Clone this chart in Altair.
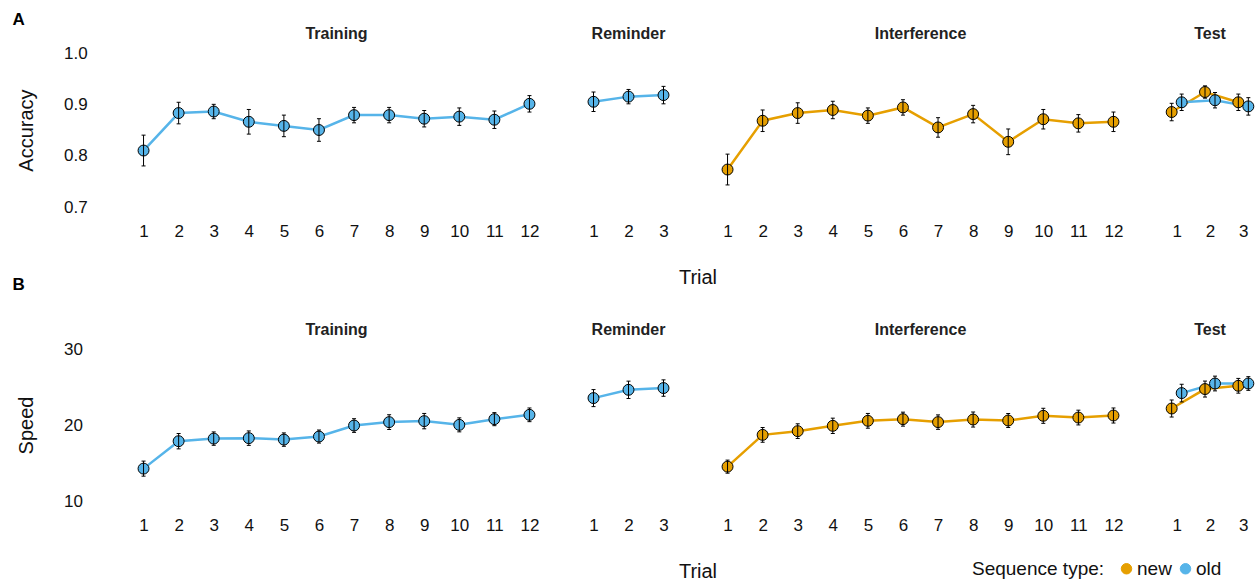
import altair as alt
import pandas as pd

FONT = "Liberation Sans"
PHASES = ["Training", "Reminder", "Interference", "Test"]
N_TRIALS = [12, 3, 12, 3]
PANEL_W = [421, 105, 421, 100]

# ---- Accuracy (panel A) ----
acc_training = [0.810, 0.883, 0.886, 0.866, 0.858, 0.850, 0.879, 0.879, 0.872, 0.876, 0.870, 0.901]
acc_training_se = [0.030, 0.021, 0.014, 0.024, 0.021, 0.022, 0.015, 0.015, 0.016, 0.017, 0.017, 0.016]
acc_reminder = [0.905, 0.915, 0.918]
acc_reminder_se = [0.019, 0.014, 0.017]
acc_interference = [0.773, 0.868, 0.883, 0.889, 0.878, 0.894, 0.855, 0.881, 0.827, 0.871, 0.863, 0.866]
acc_interference_se = [0.030, 0.021, 0.020, 0.017, 0.015, 0.015, 0.019, 0.017, 0.025, 0.019, 0.017, 0.019]
acc_test_new = [0.885, 0.924, 0.904]
acc_test_new_se = [0.017, 0.012, 0.016]
acc_test_old = [0.904, 0.908, 0.896]
acc_test_old_se = [0.016, 0.015, 0.017]

# ---- Speed (panel B) ----
spd_training = [14.26, 17.87, 18.21, 18.27, 18.08, 18.48, 19.93, 20.38, 20.51, 20.02, 20.77, 21.34]
spd_training_se = [0.99, 1.01, 0.88, 0.95, 0.88, 0.86, 0.90, 0.97, 1.01, 0.92, 0.86, 0.90]
spd_reminder = [23.54, 24.63, 24.86]
spd_reminder_se = [1.12, 1.14, 1.08]
spd_interference = [14.52, 18.70, 19.19, 19.89, 20.55, 20.77, 20.38, 20.72, 20.59, 21.21, 20.98, 21.25]
spd_interference_se = [0.86, 0.97, 0.97, 1.01, 0.97, 0.92, 0.95, 0.99, 0.92, 0.99, 0.97, 0.99]
spd_test_new = [22.17, 24.73, 25.16]
spd_test_new_se = [1.12, 1.05, 0.97]
spd_test_old = [24.20, 25.46, 25.46]
spd_test_old_se = [1.16, 0.97, 0.90]

rows = []


def add(measure, phase, typ, means, ses):
    for i, (m, s) in enumerate(zip(means, ses)):
        rows.append(dict(measure=measure, phase=phase, type=typ, trial=i + 1, mean=m, se=s))


add("Accuracy", "Training", "old", acc_training, acc_training_se)
add("Accuracy", "Reminder", "old", acc_reminder, acc_reminder_se)
add("Accuracy", "Interference", "new", acc_interference, acc_interference_se)
add("Accuracy", "Test", "new", acc_test_new, acc_test_new_se)
add("Accuracy", "Test", "old", acc_test_old, acc_test_old_se)
add("Speed", "Training", "old", spd_training, spd_training_se)
add("Speed", "Reminder", "old", spd_reminder, spd_reminder_se)
add("Speed", "Interference", "new", spd_interference, spd_interference_se)
add("Speed", "Test", "new", spd_test_new, spd_test_new_se)
add("Speed", "Test", "old", spd_test_old, spd_test_old_se)
df = pd.DataFrame(rows)

color = alt.Color(
    "type:N",
    scale=alt.Scale(domain=["new", "old"], range=["#E69F00", "#56B4E9"]),
    legend=alt.Legend(
        orient="none", legendX=846, legendY=506, direction="horizontal",
        title="Sequence type:", titleOrient="left", titleFontSize=19,
        titleFontWeight="normal", titleBaseline="middle", titlePadding=12,
        labelFontSize=19, symbolType="circle", symbolSize=110,
        symbolStrokeColor="black", symbolStrokeWidth=1, symbolOpacity=1,
        labelOffset=1, columnPadding=4,
    ),
)

ROWCFG = {
    "Accuracy": dict(dom=[0.7, 1.0], vals=[0.7, 0.8, 0.9, 1.0], fmt=".1f", h=154,
                     letter="A", ly=-33, tdy=42),
    "Speed": dict(dom=[10, 30], vals=[10, 20, 30], fmt="d", h=152,
                  letter="B", ly=-64, tdy=73),
}
TITLE_DY = 15


def panel(measure, pi):
    cfg = ROWCFG[measure]
    phase = PHASES[pi]
    n = N_TRIALS[pi]
    d = df[(df.measure == measure) & (df.phase == phase)]
    dodge = "(datum.type == 'old' ? 0.15 : -0.15)" if phase == "Test" else "0"

    xkw = dict(values=list(range(1, n + 1)), format="d", grid=False, domain=False,
               ticks=False, tickSize=0, labelPadding=16, labelFlush=False,
               labelOverlap=False, labelFontSize=17)
    if phase == "Reminder":
        xkw.update(title="Trial", titleX=121.5, titleY=70, titleAlign="center",
                   titleBaseline="middle", titleFontSize=20, titleFontWeight="normal")
    else:
        xkw.update(title=None)
    xaxis = alt.Axis(**xkw)
    xscale = alt.Scale(domain=[0.5, n + 0.5], nice=False, zero=False)
    yscale = alt.Scale(domain=cfg["dom"], nice=False, zero=False)
    if pi == 0:
        yaxis = alt.Axis(values=cfg["vals"], format=cfg["fmt"], grid=False, domain=False,
                         ticks=False, tickSize=0, labelAlign="left", labelPadding=62.5,
                         labelFontSize=17, title=measure, titleFontSize=20,
                         titleFontWeight="normal", titleX=-90)
    else:
        yaxis = None

    def X():
        return alt.X("xpos:Q", scale=xscale, axis=xaxis)

    def Y(f):
        return alt.Y(f, scale=yscale, axis=yaxis)

    base = alt.Chart(d).transform_calculate(
        xpos=f"datum.trial + {dodge}",
        lo="datum.mean - datum.se",
        hi="datum.mean + datum.se",
    )
    line = base.mark_line(strokeWidth=2.5).encode(x=X(), y=Y("mean:Q"), color=color)
    pts = base.mark_point(filled=True, size=120, stroke="black", strokeWidth=1,
                          opacity=1).encode(x=X(), y=Y("mean:Q"), color=color)
    rule = base.mark_rule(color="black", strokeWidth=1).encode(
        x=X(), y=Y("lo:Q"), y2="hi:Q")
    cap_lo = base.mark_tick(orient="horizontal", size=4, thickness=1, color="black",
                            opacity=1).encode(x=X(), y=Y("lo:Q"))
    cap_hi = base.mark_tick(orient="horizontal", size=4, thickness=1, color="black",
                            opacity=1).encode(x=X(), y=Y("hi:Q"))
    layers = [line, pts, rule, cap_lo, cap_hi]
    tkw = dict(fontSize=16, fontWeight="bold", anchor="middle", frame="group",
               offset=13, baseline="alphabetic", color="#222", font=FONT, dy=TITLE_DY)
    if pi == 0:
        letter = alt.Chart(pd.DataFrame({"label": [cfg["letter"]]})).mark_text(
            fontSize=17, fontWeight="bold", font=FONT, align="left", baseline="middle",
            color="black").encode(text="label:N", x=alt.value(-113.5), y=alt.value(cfg["ly"]))
        layers.append(letter)
        tkw["dy"] = cfg["tdy"] + TITLE_DY
    return alt.layer(*layers).properties(
        width=PANEL_W[pi], height=cfg["h"],
        title=alt.TitleParams(phase, **tkw),
    )


panels = [panel(m, i) for m in ["Accuracy", "Speed"] for i in range(4)]

chart = alt.concat(
    *panels, columns=4, spacing={"row": 142, "column": 29}, bounds="flush"
).properties(
    padding={"left": 12, "top": 11, "right": 0, "bottom": 0}
).configure_view(stroke=None).configure_axis(
    labelFont=FONT, titleFont=FONT, labelColor="#111", titleColor="#111"
).configure_legend(labelFont=FONT, titleFont=FONT, labelColor="#111", titleColor="#111")

chart.save("out.html", embed_options={"renderer": "svg", "actions": False})
